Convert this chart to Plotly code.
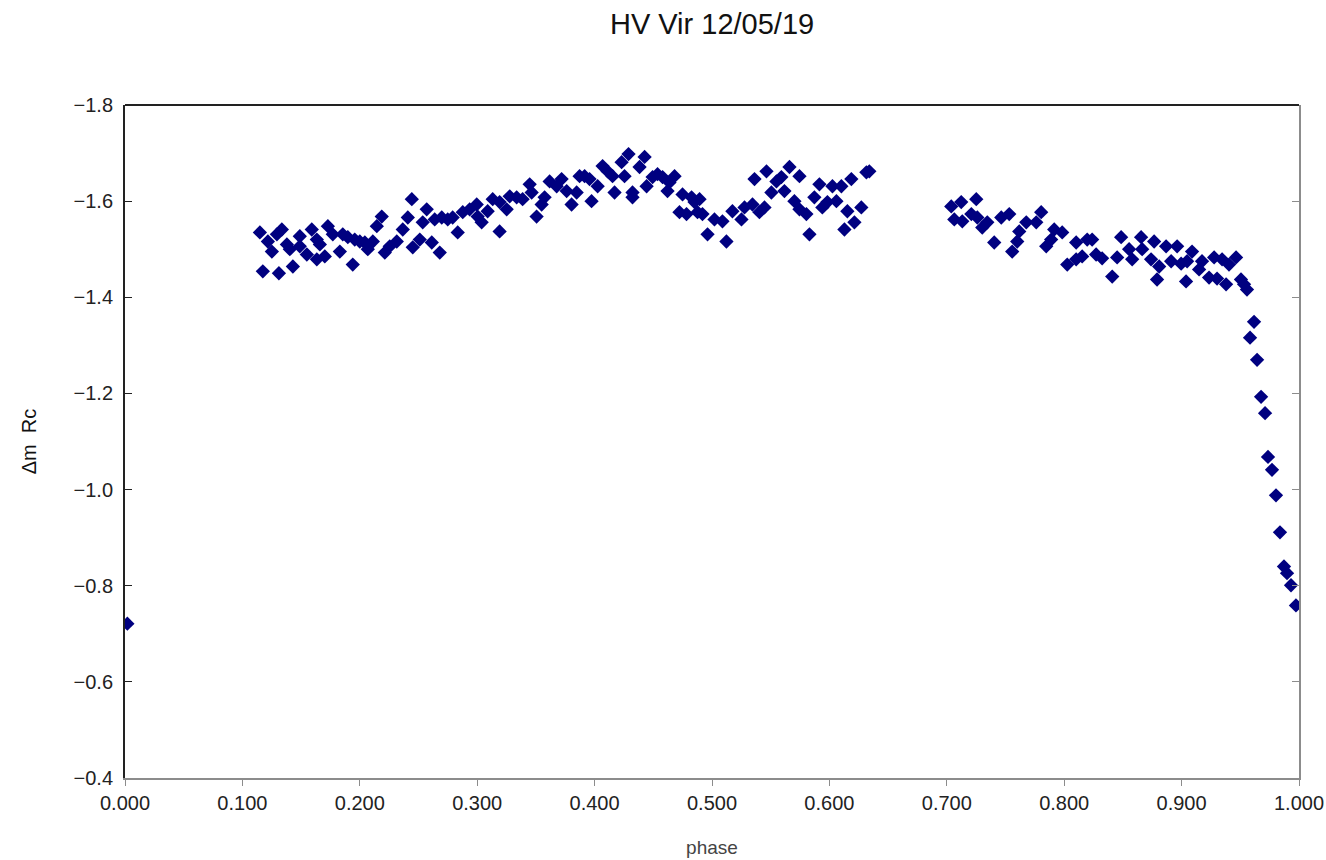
import plotly.graph_objects as go

# phase values and delta-m (Rc)
phase = [
    0.002,
    0.1149, 0.1174, 0.1217, 0.1251, 0.1294, 0.1311, 0.1336, 0.1379, 0.1404, 0.1430,
    0.1489, 0.1489, 0.1549, 0.1591, 0.1634, 0.1660, 0.1634, 0.1702, 0.1728, 0.1770,
    0.1830, 0.1855, 0.1898, 0.1940, 0.1957, 0.2000, 0.2043, 0.2068, 0.2111, 0.2145,
    0.2187, 0.2213, 0.2255, 0.2315, 0.2366, 0.2409, 0.2443, 0.2451,
    0.2511, 0.2536, 0.2570, 0.2613, 0.2638, 0.2681, 0.2698, 0.2749, 0.2791, 0.2834,
    0.2877, 0.2936, 0.2996, 0.3004, 0.3038, 0.3089, 0.3132, 0.3191, 0.3191, 0.3251,
    0.3277, 0.3336, 0.3387, 0.3447, 0.3464, 0.3506, 0.3549, 0.3574, 0.3617, 0.3677,
    0.3719, 0.3762, 0.3804, 0.3847,
    0.3872, 0.3915, 0.3957, 0.3974, 0.4026, 0.4068, 0.4111, 0.4153, 0.4170, 0.4230,
    0.4255, 0.4289, 0.4323, 0.4323, 0.4383, 0.4426, 0.4443, 0.4494, 0.4536, 0.4579,
    0.4621, 0.4638, 0.4681, 0.4723, 0.4749, 0.4783, 0.4826, 0.4851, 0.4877,
    0.4894, 0.4919, 0.4962, 0.5021, 0.5089, 0.5123, 0.5174, 0.5251, 0.5277, 0.5345,
    0.5362, 0.5404, 0.5447, 0.5464, 0.5506, 0.5549, 0.5591, 0.5617, 0.5660, 0.5702,
    0.5745, 0.5745, 0.5804, 0.5830, 0.5872, 0.5915, 0.5940, 0.5983, 0.6026, 0.6060,
    0.6102, 0.6128, 0.6153, 0.6187, 0.6213, 0.6272, 0.6315, 0.6340,
    0.7038, 0.7064, 0.7123, 0.7132, 0.7209, 0.7251, 0.7260, 0.7302, 0.7345, 0.7404,
    0.7464, 0.7532, 0.7557, 0.7600, 0.7617, 0.7677, 0.7762, 0.7804, 0.7847, 0.7889,
    0.7915, 0.7983, 0.8026, 0.8102, 0.8102, 0.8153, 0.8196,
    0.8238, 0.8272, 0.8323, 0.8409, 0.8451, 0.8485, 0.8553, 0.8579, 0.8655, 0.8664,
    0.8740, 0.8766, 0.8791, 0.8809, 0.8868, 0.8911, 0.8962, 0.8996, 0.9038, 0.9047,
    0.9089, 0.9149, 0.9174, 0.9234, 0.9277, 0.9302, 0.9345, 0.9379, 0.9404, 0.9464,
    0.9506, 0.9532, 0.9557,
    0.9583, 0.9617, 0.9643, 0.9677, 0.9711, 0.9736, 0.9770, 0.9804, 0.9838, 0.9872,
    0.9898, 0.9932, 0.9974,
]

dm_rc = [
    -0.721,
    -1.535, -1.454, -1.516, -1.495, -1.531, -1.450, -1.541, -1.510, -1.500, -1.464,
    -1.527, -1.506, -1.489, -1.541, -1.520, -1.510, -1.479, -1.485, -1.548, -1.531,
    -1.495, -1.531, -1.525, -1.468, -1.520, -1.516, -1.514, -1.500, -1.516, -1.548,
    -1.568, -1.493, -1.506, -1.516, -1.541, -1.566, -1.604, -1.504,
    -1.520, -1.556, -1.583, -1.514, -1.562, -1.493, -1.566, -1.562, -1.566, -1.535,
    -1.577, -1.583, -1.593, -1.568, -1.556, -1.579, -1.604, -1.537, -1.598, -1.583,
    -1.610, -1.608, -1.604, -1.635, -1.618, -1.568, -1.593, -1.608, -1.641, -1.631,
    -1.646, -1.621, -1.593, -1.618,
    -1.652, -1.652, -1.646, -1.600, -1.631, -1.673, -1.662, -1.652, -1.618, -1.681,
    -1.652, -1.698, -1.618, -1.608, -1.671, -1.692, -1.631, -1.650, -1.656, -1.650,
    -1.621, -1.639, -1.652, -1.577, -1.614, -1.573, -1.608, -1.598, -1.577,
    -1.604, -1.573, -1.531, -1.562, -1.558, -1.516, -1.579, -1.562, -1.587, -1.593,
    -1.646, -1.577, -1.587, -1.662, -1.618, -1.641, -1.650, -1.621, -1.671, -1.600,
    -1.652, -1.583, -1.573, -1.531, -1.608, -1.635, -1.587, -1.598, -1.631, -1.600,
    -1.631, -1.541, -1.579, -1.646, -1.556, -1.587, -1.660, -1.662,
    -1.589, -1.562, -1.598, -1.558, -1.573, -1.604, -1.566, -1.545, -1.556, -1.514,
    -1.566, -1.573, -1.495, -1.516, -1.537, -1.556, -1.556, -1.577, -1.506, -1.520,
    -1.541, -1.535, -1.468, -1.514, -1.479, -1.485, -1.520,
    -1.520, -1.489, -1.481, -1.443, -1.483, -1.525, -1.500, -1.479, -1.525, -1.500,
    -1.479, -1.516, -1.437, -1.464, -1.506, -1.475, -1.506, -1.470, -1.433, -1.475,
    -1.495, -1.458, -1.475, -1.441, -1.483, -1.439, -1.479, -1.427, -1.468, -1.483,
    -1.437, -1.427, -1.416,
    -1.316, -1.349, -1.270, -1.193, -1.159, -1.068, -1.041, -0.988, -0.911, -0.840,
    -0.826, -0.801, -0.759,
]

x_ticks = [0.0, 0.1, 0.2, 0.3, 0.4, 0.5, 0.6, 0.7, 0.8, 0.9, 1.0]
x_tick_labels = ["0.000", "0.100", "0.200", "0.300", "0.400", "0.500",
                 "0.600", "0.700", "0.800", "0.900", "1.000"]
y_ticks = [-1.8, -1.6, -1.4, -1.2, -1.0, -0.8, -0.6, -0.4]
y_tick_labels = ["\u22121.8", "\u22121.6", "\u22121.4", "\u22121.2",
                 "\u22121.0", "\u22120.8", "\u22120.6", "\u22120.4"]

FONT = "Liberation Sans, Arial, sans-serif"

fig = go.Figure()
fig.add_trace(go.Scatter(
    x=phase, y=dm_rc, mode="markers",
    marker=dict(symbol="diamond", size=11, color="#000080",
                line=dict(width=0)),
    showlegend=False, yaxis="y",
))
# invisible trace to show right-hand axis with inward ticks
fig.add_trace(go.Scatter(
    x=[phase[0]], y=[dm_rc[0]], mode="markers",
    marker=dict(size=1, opacity=0), showlegend=False, hoverinfo="skip",
    yaxis="y2",
))

fig.update_layout(
    width=1326, height=860,
    paper_bgcolor="white", plot_bgcolor="white",
    margin=dict(l=125, r=27, t=105, b=82),
    title=dict(text="HV Vir 12/05/19", x=0.537, xanchor="center",
               y=0.972, yanchor="middle",
               font=dict(family=FONT, size=29, color="#111")),
    xaxis=dict(
        range=[0, 1], tickvals=x_ticks, ticktext=x_tick_labels,
        showgrid=False, zeroline=False, automargin=False,
        showline=True, linecolor="#8c8c8c", linewidth=2,
        ticks="outside", ticklen=6, tickcolor="#8c8c8c", tickwidth=1,
        tickfont=dict(family=FONT, size=20, color="#222"),
        ticklabelstandoff=0,
        title=dict(text="phase", standoff=28,
                   font=dict(family=FONT, size=19, color="#444")),
        mirror=False,
    ),
    yaxis=dict(
        range=[-0.4, -1.8], autorange=False, automargin=False,
        tickvals=y_ticks, ticktext=y_tick_labels,
        showgrid=False, zeroline=False,
        showline=True, linecolor="#222", linewidth=2,
        ticks="inside", ticklen=7, tickcolor="#222", tickwidth=1,
        tickfont=dict(family=FONT, size=20, color="#222"),
        ticklabelstandoff=6,
        title=dict(text="\u0394m\u00a0\u00a0Rc", standoff=32,
                   font=dict(family=FONT, size=20, color="#111")),
    ),
    yaxis2=dict(
        range=[-0.4, -1.8], autorange=False, overlaying="y", side="right",
        tickvals=y_ticks, showticklabels=False, automargin=False,
        showgrid=False, zeroline=False,
        showline=True, linecolor="#8c8c8c", linewidth=2,
        ticks="inside", ticklen=7, tickcolor="#8c8c8c", tickwidth=1,
    ),
    shapes=[dict(type="line", xref="paper", yref="paper",
                 x0=0, x1=1, y0=1, y1=1,
                 line=dict(color="#222", width=2))],
)

fig.write_html("out.html")
